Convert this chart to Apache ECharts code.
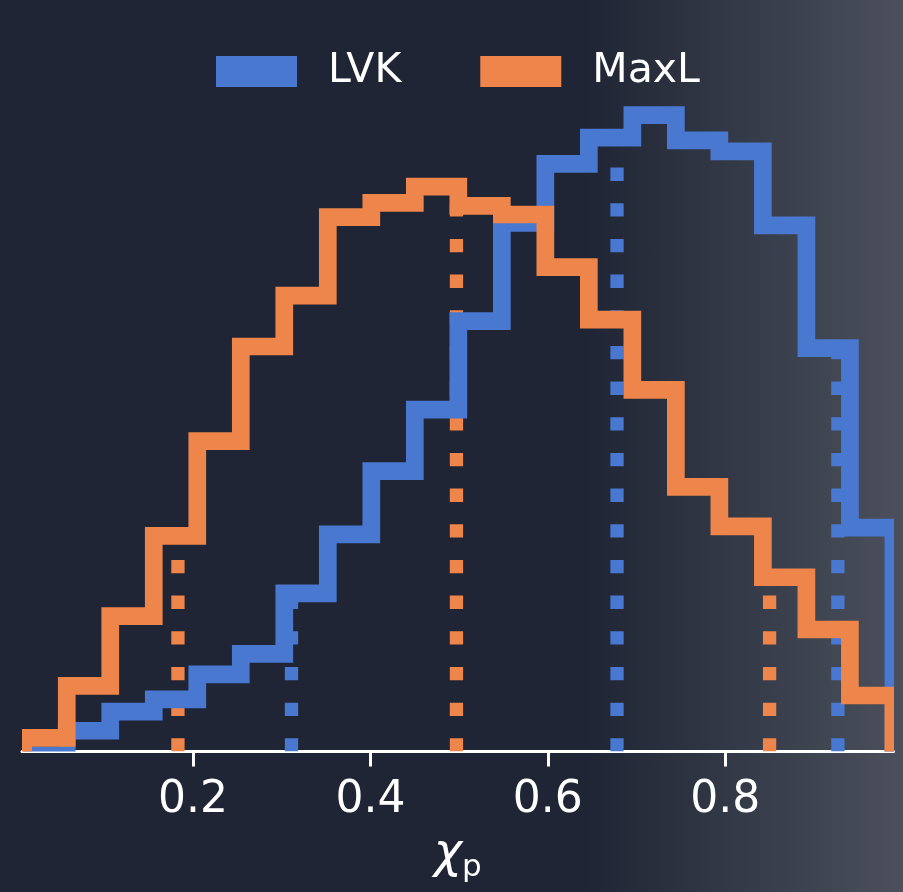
<!DOCTYPE html>
<html><head><meta charset="utf-8">
<script src="https://cdn.jsdelivr.net/npm/echarts@6/dist/echarts.min.js"></script>
<style>
html,body{margin:0;padding:0;width:903px;height:892px;overflow:hidden;
background:linear-gradient(to right,#202535 0%,#202535 65%,#4b505c 100%);}
#c{width:903px;height:892px;}
</style></head><body><div id="c"></div>
<script>
// ---- data ----
const seriesNames = ['LVK', 'MaxL'];
const binStart = 0.0086;      // left edge of first bin
const binWidth = 0.04905;     // common bin width
const lvkDensity  = [0.000, 0.077, 0.137, 0.175, 0.253, 0.317, 0.506, 0.690, 0.887, 1.079,
                     1.355, 1.662, 1.846, 1.928, 1.998, 1.919, 1.885, 1.654, 1.271, 0.711];
const maxlDensity = [0.055, 0.217, 0.435, 0.685, 0.981, 1.276, 1.435, 1.680, 1.724, 1.775,
                     1.715, 1.688, 1.524, 1.360, 1.141, 0.838, 0.715, 0.556, 0.393, 0.187];
const lvkQuantiles  = [0.311, 0.678, 0.927];
const maxlQuantiles = [0.183, 0.497, 0.850];
const xTicks = [0.2, 0.4, 0.6, 0.8];
const xRange = [0.0072, 0.9897];
const yRange = [0.012, 2.1];

// ---- style ----
const colors = ['#4878d0', '#ee854a'];
const histLineWidth = 17.7;
const dotWidth = 13.3;

function stepSeries(name, values, color) {
  const data = values.map((v, i) => [binStart + i * binWidth, binStart + (i + 1) * binWidth, v]);
  return {
    type: 'custom', name: name, clip: true, data: data,
    itemStyle: { color: color },
    encode: { x: [0, 1], y: 2 },
    renderItem: function (params, api) {
      if (params.dataIndexInside !== 0) return null;
      const n = params.dataInsideLength;
      const pts = [api.coord([api.value(0, 0), 0])];
      for (let i = 0; i < n; i++) {
        pts.push(api.coord([api.value(0, i), api.value(2, i)]));
        pts.push(api.coord([api.value(1, i), api.value(2, i)]));
      }
      pts.push(api.coord([api.value(1, n - 1), 0]));
      return { type: 'polyline', shape: { points: pts },
        style: { stroke: color, lineWidth: histLineWidth, fill: null, lineJoin: 'miter', lineCap: 'butt' } };
    }
  };
}

function quantileSeries(name, qs, values, color) {
  const data = qs.map(q => [q, values[Math.floor((q - binStart) / binWidth)]]);
  return {
    type: 'custom', name: name, clip: true, data: data,
    itemStyle: { color: color },
    encode: { x: 0, y: 1 },
    renderItem: function (params, api) {
      const top = api.coord([api.value(0), api.value(1)]);
      const bot = api.coord([api.value(0), yRange[0]]);
      return { type: 'line', shape: { x1: bot[0], y1: bot[1], x2: top[0], y2: top[1] },
        style: { stroke: color, lineWidth: dotWidth, lineDash: [13.3, 22.37], lineCap: 'butt' } };
    }
  };
}

const chart = echarts.init(document.getElementById('c'), null, { renderer: 'canvas' });
chart.setOption({
  animation: false,
  backgroundColor: 'transparent',
  textStyle: { fontFamily: 'DejaVu Sans' },
  grid: { left: 22, right: 9.5, top: 82.45, bottom: 140.4, containLabel: false },
  legend: {
    data: seriesNames, left: 216, top: 51, padding: 0,
    itemWidth: 81, itemHeight: 31, itemGap: 79, icon: 'rect',
    textStyle: { color: '#ffffff', fontSize: 41, fontFamily: 'DejaVu Sans', padding: [0, 0, 0, 26] }
  },
  xAxis: {
    type: 'value', min: xRange[0], max: xRange[1],
    axisLine: { lineStyle: { color: '#ffffff', width: 3 } },
    axisTick: { customValues: xTicks, length: 15, lineStyle: { color: '#ffffff', width: 3 } },
    axisLabel: { customValues: xTicks, color: '#ffffff', fontSize: 44, fontFamily: 'DejaVu Sans', margin: 27,
      formatter: v => v.toFixed(1) },
    splitLine: { show: false },
    name: '{c|χ}{s|p}', nameLocation: 'middle', nameGap: 74,
    nameTextStyle: { color: '#ffffff', rich: {
      c: { fontSize: 48, fontStyle: 'italic', fontFamily: 'DejaVu Sans', color: '#ffffff', lineHeight: 58 },
      s: { fontSize: 31, fontFamily: 'DejaVu Sans', color: '#ffffff', lineHeight: 31, verticalAlign: 'bottom' }
    } }
  },
  yAxis: { type: 'value', min: yRange[0], max: yRange[1], show: false, splitLine: { show: false } },
  series: [
    quantileSeries('LVK quantiles', lvkQuantiles, lvkDensity, colors[0]),
    quantileSeries('MaxL quantiles', maxlQuantiles, maxlDensity, colors[1]),
    stepSeries('LVK', lvkDensity, colors[0]),
    stepSeries('MaxL', maxlDensity, colors[1])
  ]
});
</script></body></html>
